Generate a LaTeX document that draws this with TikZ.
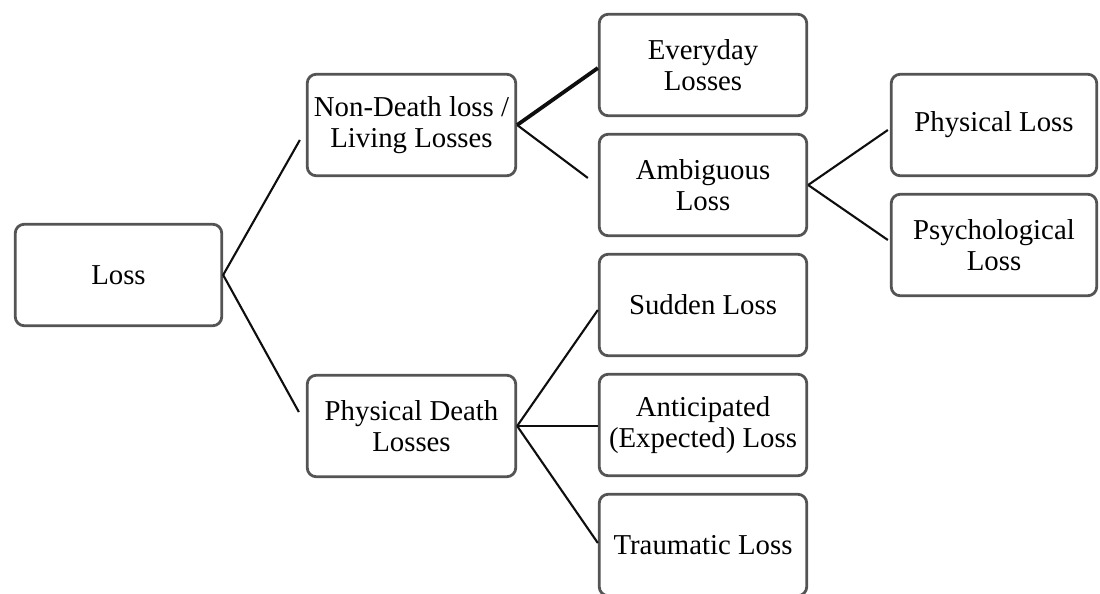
\documentclass[tikz,border=0pt]{standalone}
\usepackage{fontspec}
\setmainfont{Liberation Serif}
\definecolor{boxgray}{HTML}{545454}
\definecolor{linkblack}{HTML}{0E0E0E}
\begin{document}
\begin{tikzpicture}[x=1pt,y=-1pt,
  box/.style={draw=boxgray, line width=2.8pt, rounded corners=9pt, fill=white,
    minimum width=207.5pt, minimum height=101.5pt, align=center, inner sep=0pt,
    font=\fontsize{28.8}{31}\selectfont},
  link/.style={draw=linkblack, line width=2.1pt},
  heavylink/.style={link, line width=3.8pt},
  midlink/.style={link, line width=2.6pt}]
\clip (0,0) rectangle (1100,594);

% level 0
\node[box, minimum width=206.5pt] (loss) at (118.5,275) {Loss};
% level 1
\node[box, minimum width=208.5pt] (nondeath) at (411.5,125) {Non-Death loss /\\Living Losses};
\node[box, minimum width=208.5pt] (physdeath) at (411.5,426) {Physical Death\\Losses};
% level 2
\node[box] (everyday) at (703,65) {Everyday\\Losses};
\node[box] (ambiguous) at (703,185) {Ambiguous\\Loss};
\node[box] (sudden) at (703,305) {Sudden Loss};
\node[box] (anticipated) at (703,425) {Anticipated\\(Expected) Loss};
\node[box] (traumatic) at (703,545) {Traumatic Loss};
% level 3
\node[box, minimum width=205.5pt] (physical) at (994,125) {Physical Loss};
\node[box, minimum width=205.5pt] (psych) at (994,245) {Psychological\\Loss};

% connectors
\draw[link] (loss.east) -- ([xshift=-6pt,yshift=-15pt]nondeath.west);
\draw[link] (loss.east) -- ([xshift=-7pt,yshift=14pt]physdeath.west);
\draw[heavylink] (nondeath.east) -- ([yshift=-3pt]everyday.west);
\draw[link] (nondeath.east) -- ([xshift=-10pt,yshift=7pt]ambiguous.west);
\draw[link] (ambiguous.east) -- ([xshift=-2pt,yshift=-5pt]physical.west);
\draw[link] (ambiguous.east) -- ([xshift=-2pt,yshift=5pt]psych.west);
\draw[link] (physdeath.east) -- ([yshift=-5pt]sudden.west);
\draw[midlink] (physdeath.east) -- (physdeath.east -| anticipated.west);
\draw[link] (physdeath.east) -- ([yshift=2pt]traumatic.west);
\end{tikzpicture}
\end{document}
